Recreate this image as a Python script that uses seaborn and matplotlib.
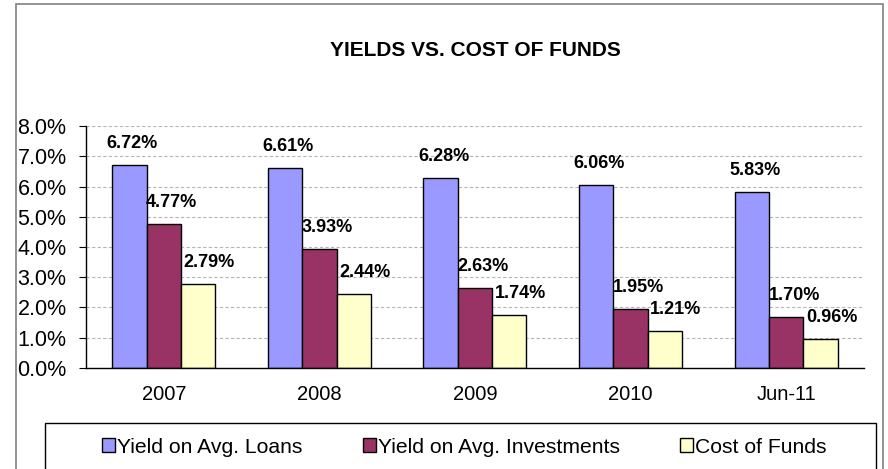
import matplotlib
matplotlib.use("Agg")
import matplotlib.pyplot as plt
import matplotlib.ticker as mticker
from matplotlib.patches import Rectangle
import numpy as np
import pandas as pd
import seaborn as sns

# ---- DATA ----
periods = ["2007", "2008", "2009", "2010", "Jun-11"]
series_names = ["Yield on Avg. Loans", "Yield on Avg. Investments", "Cost of Funds"]
loans = [6.72, 6.61, 6.28, 6.06, 5.83]
investments = [4.77, 3.93, 2.63, 1.95, 1.70]
cost_of_funds = [2.79, 2.44, 1.74, 1.21, 0.96]
colors = ["#9999FF", "#993366", "#FFFFCC"]

df = pd.DataFrame({
    "period": periods * 3,
    "series": [series_names[0]] * 5 + [series_names[1]] * 5 + [series_names[2]] * 5,
    "value": loans + investments + cost_of_funds,
})

sns.set_style("white")
plt.rcParams["font.family"] = ["Liberation Sans", "DejaVu Sans"]
plt.rcParams["text.color"] = "black"
plt.rcParams["xtick.color"] = "black"
plt.rcParams["ytick.color"] = "black"
plt.rcParams["axes.labelcolor"] = "black"

fig = plt.figure(figsize=(8.88, 4.69), dpi=100)
ax = fig.add_axes([0.0968, 0.2154, 0.8761, 0.5159])

sns.barplot(data=df, x="period", y="value", hue="series", palette=colors,
            width=0.662, saturation=1, edgecolor="black", linewidth=1,
            ax=ax, legend=False)

# data labels
label_dx = [3, 8, 11]
for i, cont in enumerate(ax.containers):
    for bar in cont:
        h = bar.get_height()
        ax.annotate(f"{h:.2f}%", xy=(bar.get_x() + bar.get_width() / 2, h),
                    xytext=(label_dx[i], 13), textcoords="offset pixels",
                    ha="center", va="bottom", fontsize=13, fontweight="bold",
                    color="black")

ax.set_ylim(0, 8)
ax.set_xlim(-0.5, 4.5)
ax.set_yticks(np.arange(0, 9, 1))
ax.yaxis.set_major_formatter(mticker.FuncFormatter(lambda v, p: f"{v:.1f}%"))
ax.yaxis.grid(True, linestyle=(0, (3, 2)), color="#b5b5b5", linewidth=0.8)
ax.set_axisbelow(True)
ax.set_xlabel("")
ax.set_ylabel("")

for s in ["top", "right"]:
    ax.spines[s].set_visible(False)
for s in ["left", "bottom"]:
    ax.spines[s].set_color("black")
    ax.spines[s].set_linewidth(1)

ax.set_xticks(np.arange(-0.5, 5, 1), minor=True)
ax.tick_params(axis="x", which="major", length=0, labelsize=14.5, pad=12)
ax.tick_params(axis="x", which="minor", length=5, direction="out", color="black")
ax.tick_params(axis="y", which="major", left=True, length=5, direction="out",
               labelsize=15.5, pad=9, color="black")

# title
fig.text(0.535, 0.893, "YIELDS VS. COST OF FUNDS", ha="center", va="center",
         fontsize=15, fontweight="bold")

# outer chart border and legend box
fig.patches.append(Rectangle((0.018, -0.05), 0.9764, 1.0415, transform=fig.transFigure,
                             fill=False, edgecolor="#808080", linewidth=1.2))
fig.patches.append(Rectangle((0.0507, -0.05), 0.9358, 0.1481, transform=fig.transFigure,
                             fill=False, edgecolor="black", linewidth=1))

handles = [Rectangle((0, 0), 1, 1, facecolor=c, edgecolor="black", linewidth=1)
           for c in colors]
fig.legend(handles, series_names, loc="center left",
           bbox_to_anchor=(0.1149, 0.0469, 0.8164, 0), mode="expand", ncol=3,
           frameon=False, borderpad=0, borderaxespad=0, fontsize=15.2,
           handlelength=0.62, handleheight=0.62, handletextpad=0.1)

fig.savefig("out.png", dpi=100)
